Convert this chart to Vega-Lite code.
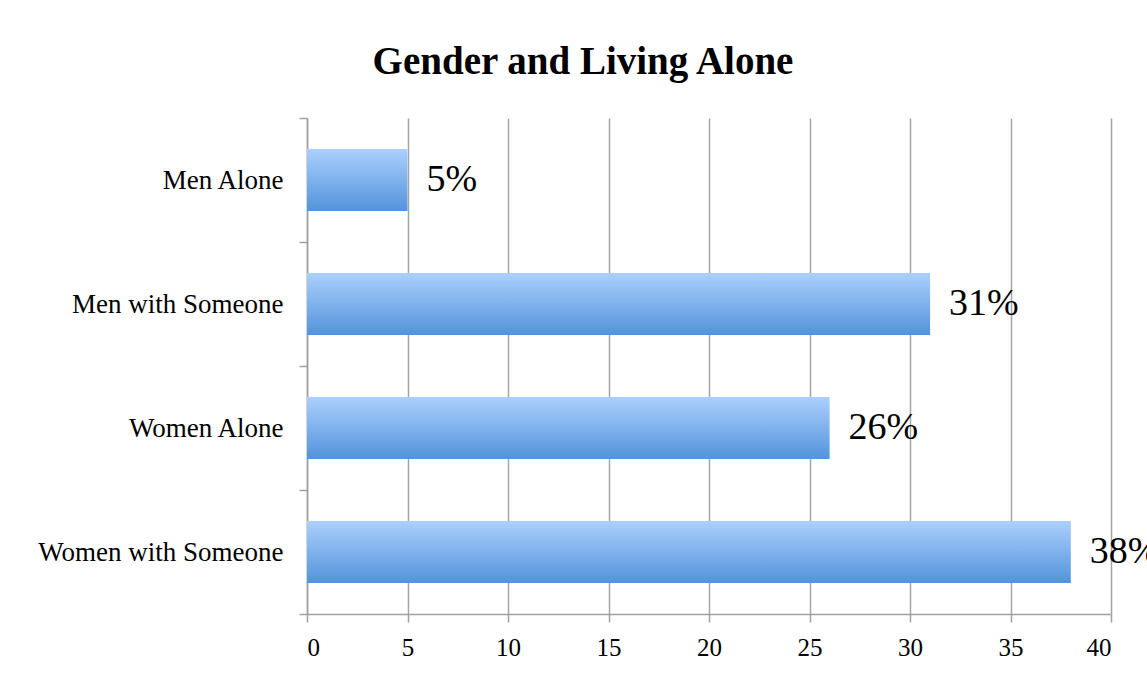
{
  "$schema": "https://vega.github.io/schema/vega-lite/v6.json",
  "width": 804,
  "height": 496,
  "autosize": "none",
  "padding": {"left": 307, "top": 118, "right": 36, "bottom": 61},
  "background": "white",
  "title": {
    "text": "Gender and Living Alone",
    "font": "Liberation Serif",
    "fontSize": 39,
    "fontWeight": "bold",
    "color": "#000000",
    "anchor": "middle",
    "dx": -126,
    "offset": 22
  },
  "data": {
    "values": [
      {"group": "Men Alone", "pct": 5, "label": "5%"},
      {"group": "Men with Someone", "pct": 31, "label": "31%"},
      {"group": "Women Alone", "pct": 26, "label": "26%"},
      {"group": "Women with Someone", "pct": 38, "label": "38%"}
    ]
  },
  "config": {
    "view": {"stroke": null},
    "axis": {
      "labelFont": "Liberation Serif",
      "labelColor": "#000000",
      "domainColor": "#a0a0a0",
      "domainWidth": 1.5,
      "tickColor": "#a0a0a0",
      "tickWidth": 1.5,
      "gridColor": "#a6a6a6",
      "gridWidth": 1.5,
      "title": null,
      "labelLimit": 0
    }
  },
  "encoding": {
    "y": {
      "field": "group",
      "type": "nominal",
      "sort": ["Men Alone", "Men with Someone", "Women Alone", "Women with Someone"],
      "scale": {"paddingInner": 0, "paddingOuter": 0},
      "axis": {"tickBand": "extent", "tickSize": 8, "labelPadding": 16, "grid": false, "labelFontSize": 27}
    },
    "x": {
      "field": "pct",
      "type": "quantitative",
      "scale": {"domain": [0, 40], "nice": false},
      "axis": {"values": [0, 5, 10, 15, 20, 25, 30, 35, 40], "tickSize": 8, "labelPadding": 13, "grid": true, "labelFontSize": 25}
    }
  },
  "layer": [
    {
      "mark": {
        "type": "bar",
        "height": {"band": 0.5},
        "fill": {
          "gradient": "linear",
          "x1": 0, "y1": 0, "x2": 0, "y2": 1,
          "stops": [
            {"offset": 0, "color": "#abd0fd"},
            {"offset": 1, "color": "#5293db"}
          ]
        }
      }
    },
    {
      "mark": {"type": "text", "align": "left", "baseline": "middle", "dx": 19, "font": "Liberation Serif", "fontSize": 38, "color": "#000000"},
      "encoding": {"text": {"field": "label", "type": "nominal"}}
    }
  ]
}
